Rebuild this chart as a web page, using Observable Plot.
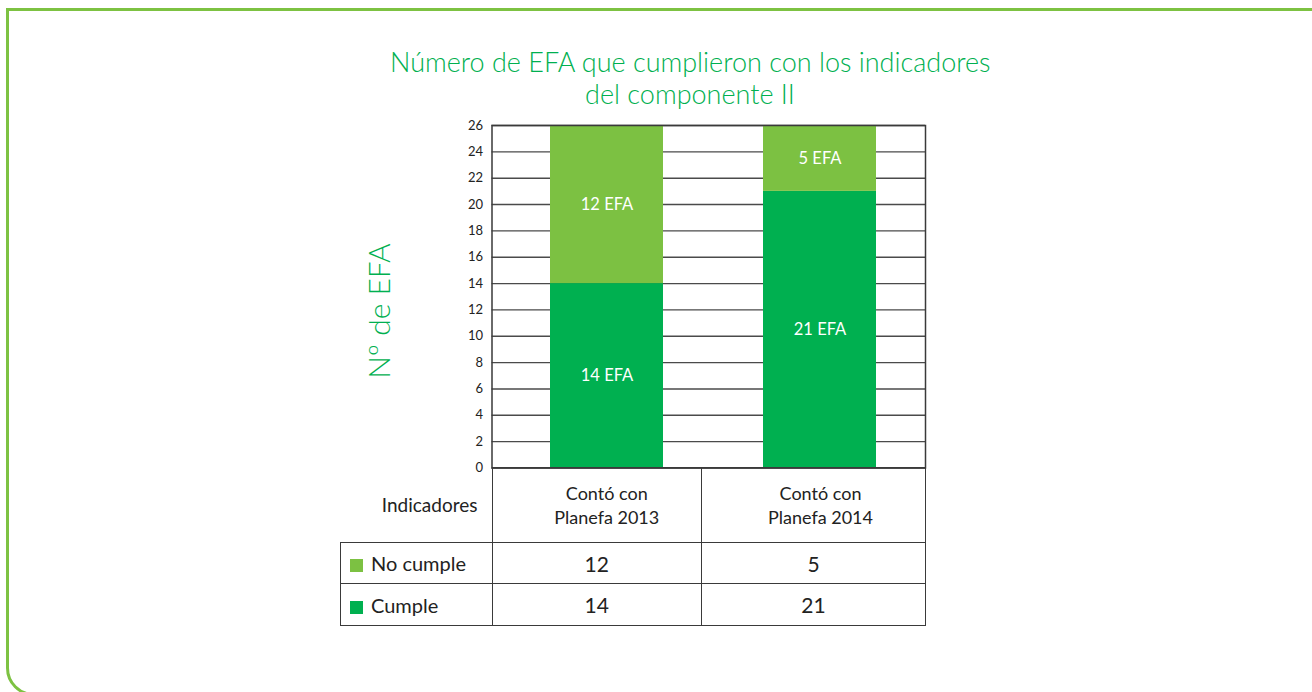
<!DOCTYPE html>
<html>
<head>
<meta charset="utf-8">
<script src="https://cdn.jsdelivr.net/npm/d3@7"></script>
<script src="https://cdn.jsdelivr.net/npm/@observablehq/plot@0.6"></script>
<style>
  html, body { margin: 0; padding: 0; background: #fff; }
  body { width: 1312px; height: 692px; overflow: hidden; position: relative; font-family: Lato, "Noto Sans", sans-serif; }
  #frame { position: absolute; left: 6px; top: 8px; width: 1400px; height: 682px; border: 3px solid #7dc242; border-bottom-left-radius: 28px; box-sizing: content-box; }
  #title { position: absolute; left: 390px; width: 600px; top: 46px; text-align: center; color: #00b050; font-size: 27px; line-height: 32px; font-weight: 300; white-space: nowrap; }
  #ylabel { position: absolute; left: 378px; top: 311px; transform: translate(-50%, -50%) rotate(-90deg); color: #00b050; font-size: 30px; white-space: nowrap; font-weight: 300; }
  #chart { position: absolute; left: 0; top: 0; }
  #table { position: absolute; left: 340px; top: 467px; border-collapse: collapse; table-layout: fixed; color: #222; }
  #table td { padding: 0; border: 1.5px solid #3a3a3a; }
  #table td.blank { border-top: none; border-left: none; }
  .sw { display: inline-block; width: 13px; height: 13px; margin: 0 8px 0 9px; vertical-align: -1px; }
</style>
</head>
<body>
<div id="frame"></div>
<div id="title"></div>
<div id="ylabel"></div>
<div id="chart"></div>
<table id="table"></table>
<script>
const titulo = ["Número de EFA que cumplieron con los indicadores", "del componente II"];
const etiquetaY = "Nº de EFA";
const encabezadoFilas = "Indicadores";
const categorias = ["Contó con Planefa 2013", "Contó con Planefa 2014"];
const categoriasLineas = [["Contó con", "Planefa 2013"], ["Contó con", "Planefa 2014"]];
const series = ["No cumple", "Cumple"];
const noCumple = [12, 5];
const cumple = [14, 21];
const colores = ["#7cc142", "#00b050"];
const yTicks = [0, 2, 4, 6, 8, 10, 12, 14, 16, 18, 20, 22, 24, 26];

document.getElementById("title").innerHTML = titulo.join("<br>");
document.getElementById("ylabel").textContent = etiquetaY;

const data = [];
categorias.forEach((c, i) => {
  data.push({cat: c, serie: "Cumple", v: cumple[i]});
  data.push({cat: c, serie: "No cumple", v: noCumple[i]});
});

const plot = Plot.plot({
  width: 1312,
  height: 692,
  marginLeft: 491.5,
  marginRight: 387,
  marginTop: 125,
  marginBottom: 224.5,
  style: {background: "transparent", fontFamily: "Lato, 'Noto Sans', sans-serif", fontSize: "13px", color: "#222", overflow: "visible"},
  x: {domain: categorias, paddingInner: 0.47, paddingOuter: 0.25, align: 0.54, axis: null},
  y: {domain: [0, 26], ticks: yTicks, tickSize: 0, tickPadding: 9, label: null},
  color: {domain: series, range: colores},
  marks: [
    Plot.ruleY(yTicks, {stroke: "#4a4a4a", strokeWidth: 1.4}),
    Plot.barY(data, Plot.stackY({x: "cat", y: "v", fill: "serie", order: ["Cumple", "No cumple"]})),
    Plot.text(data, Plot.stackY({x: "cat", y: "v", z: "serie", order: ["Cumple", "No cumple"], text: d => `${d.v} EFA`, fill: "white", fontSize: 16.5})),
    Plot.frame({stroke: "#3a3a3a", strokeWidth: 1.5})
  ]
});
document.getElementById("chart").appendChild(plot);

// table
const tbl = document.getElementById("table");
const colW = [151.5, 209.5, 224];
const cg = document.createElement("colgroup");
colW.forEach(w => { const c = document.createElement("col"); c.style.width = w + "px"; cg.appendChild(c); });
tbl.appendChild(cg);

const r0 = tbl.insertRow();
r0.style.height = "75px";
const h0 = r0.insertCell();
h0.className = "blank";
h0.textContent = encabezadoFilas;
h0.style.cssText = "text-align:right;padding-right:14px;font-size:19px;";
const headPad = [20, 14];
categoriasLineas.forEach((ls, i) => {
  const td = r0.insertCell();
  td.innerHTML = ls.join("<br>");
  td.style.cssText = `text-align:center;font-size:18px;line-height:24px;padding-left:${headPad[i]}px;`;
});

const valores = {"No cumple": noCumple, "Cumple": cumple};
series.forEach((s, k) => {
  const tr = tbl.insertRow();
  tr.style.height = k === 0 ? "41px" : "42px";
  const td0 = tr.insertCell();
  td0.innerHTML = `<span class="sw" style="background:${colores[k]}"></span>${s}`;
  td0.style.fontSize = "20px";
  valores[s].forEach(v => {
    const td = tr.insertCell();
    td.textContent = v;
    td.style.cssText = "text-align:center;font-size:21px;";
  });
});
</script>
</body>
</html>
